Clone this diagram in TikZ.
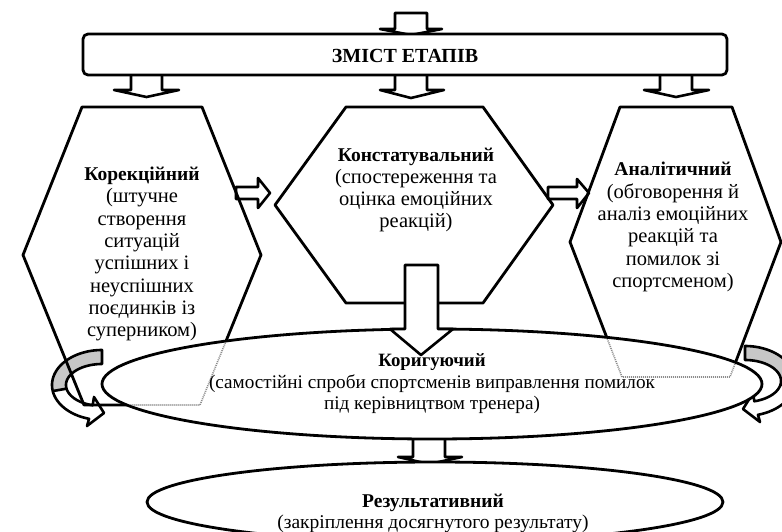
\documentclass[tikz,border=0pt]{standalone}
\usepackage{fontspec}
\setmainfont{Liberation Serif}
\usetikzlibrary{calc}
\newcommand{\hexbold}[1]{{\fontsize{19.5}{22.3}\selectfont\bfseries #1}}
\newcommand{\ellbold}[1]{{\fontsize{18.8}{21.5}\selectfont\bfseries #1}}
\begin{document}
\begin{tikzpicture}[x=1pt,y=-1pt,line join=round,
  outl/.style={draw=black,line width=2.8pt},
  blockarrow/.style={draw=black,line width=2.6pt,fill=white,line join=round},
  hidden/.style={draw=black!45,line width=1.6pt,dash pattern=on 1pt off 1pt},
  hexlbl/.style={align=center,inner sep=0pt,font=\fontsize{20.5}{22.3}\selectfont},
  elllbl/.style={align=center,inner sep=0pt,font=\fontsize{19.2}{21.5}\selectfont},
  curvefill/.style={fill=black!22},
]
\useasboundingbox (0,0) rectangle (782,532);
\clip (0,0) rectangle (782,532);

% ---- curved arrows (left and right)
\fill[curvefill] plot[domain=270:170,samples=30] ({102+50*cos(\x)},{385+35*sin(\x)})
  -- plot[domain=170:270,samples=30] ({102+36*cos(\x)},{385+21*sin(\x)}) -- cycle;
\draw[outl,line width=2.6pt] plot[domain=270:105,samples=50] ({102+50*cos(\x)},{385+35*sin(\x)})
  -- (87,426) -- (104,413) -- (94,397)
  -- plot[domain=105:270,samples=50] ({102+36*cos(\x)},{385+21*sin(\x)}) -- cycle;
\draw[line width=2.6pt] ({102+50*cos(170)},{385+35*sin(170)}) -- ({102+36*cos(170)},{385+21*sin(170)});

\fill[curvefill] plot[domain=-90:10,samples=30] ({745+50*cos(\x)},{381+35*sin(\x)})
  -- plot[domain=10:-90,samples=30] ({745+36*cos(\x)},{381+21*sin(\x)}) -- cycle;
\draw[outl,line width=2.6pt] plot[domain=-90:75,samples=50] ({745+50*cos(\x)},{381+35*sin(\x)})
  -- (760,422) -- (743,409) -- (753,393)
  -- plot[domain=75:-90,samples=50] ({745+36*cos(\x)},{381+21*sin(\x)}) -- cycle;
\draw[line width=2.6pt] ({745+50*cos(10)},{381+35*sin(10)}) -- ({745+36*cos(10)},{381+21*sin(10)});

% ---- arrow into the bar
\draw[blockarrow] (395,13) -- (427,13) -- (427,29) -- (442,29) -- (411,35) -- (380,29) -- (395,29) -- cycle;
% ---- arrows out of the bar
\draw[blockarrow] (131,68) -- (162,68) -- (162,90) -- (179,90) -- (146.5,97) -- (114,90) -- (131,90) -- cycle;
\draw[blockarrow] (395,68) -- (427,68) -- (427,90) -- (444,90) -- (411,98) -- (380,90) -- (395,90) -- cycle;
\draw[blockarrow] (660,68) -- (692,68) -- (692,90) -- (709,90) -- (676,97) -- (644,90) -- (660,90) -- cycle;

% ---- bar
\draw[outl,fill=white,rounded corners=5pt] (83,34) rectangle (727,75);
\node[font=\fontsize{20}{22}\selectfont\bfseries,inner sep=0pt] (zmist) at (405,56) {ЗМІСТ ЕТАПІВ};

% ---- horizontal arrows
\draw[blockarrow] (236,187) -- (258,187) -- (258,178) -- (270,193) -- (258,208) -- (258,199) -- (236,199) -- cycle;
\draw[blockarrow] (548,187) -- (577,187) -- (577,179) -- (589,193) -- (577,208) -- (577,199) -- (548,199) -- cycle;

% ---- hexagons
\draw[outl] (82,107) -- (202,107) -- (261,255) -- (200,405) -- (84,405) -- (23,255) -- cycle;
\draw[outl] (346,107) -- (483,107) -- (553,205) -- (483,303) -- (346,303) -- (275,205) -- cycle;
\draw[outl] (620,107) -- (732,107) -- (781,242) -- (730,377) -- (622,377) -- (570,242) -- cycle;

\node[hexlbl] (korek) at (142,254) {\hexbold{Корекційний}\\(штучне\\створення\\ситуацій\\успішних і\\неуспішних\\поєдинків із\\суперником)};
\node[hexlbl] (konst) at (416,190) {\hexbold{Констатувальний}\\(спостереження та\\оцінка емоційних\\реакцій)};
\node[hexlbl] (anal) at (673,227) {\hexbold{Аналітичний}\\(обговорення й\\аналіз емоційних\\реакцій та\\помилок зі\\спортсменом)};

% ---- arrow between ellipses
\draw[blockarrow] (413,430) -- (445,430) -- (445,457) -- (462,457) -- (429,464) -- (398,457) -- (413,457) -- cycle;

% ---- ellipse 1
\draw[outl,fill=white] (432,384) ellipse [x radius=330pt,y radius=55pt];
\begin{scope}
  \clip (432,384) ellipse [x radius=328pt,y radius=53pt];
  \draw[hidden] (82,107) -- (202,107) -- (261,255) -- (200,405) -- (84,405) -- (23,255) -- cycle;
  \draw[hidden] (620,107) -- (732,107) -- (781,242) -- (730,377) -- (622,377) -- (570,242) -- cycle;
\end{scope}

% ---- big middle arrow
\draw[blockarrow] (405,265) -- (438,265) -- (438,329) -- (453,329) -- (421,355) -- (390,329) -- (405,329) -- cycle;

\node[elllbl] (korig) at (432,384) {\ellbold{Коригуючий}\\(самостійні спроби спортсменів виправлення помилок\\під керівництвом тренера)};

% ---- ellipse 2
\draw[outl,fill=white] (435,502) ellipse [x radius=288pt,y radius=40pt];
\node[elllbl,font=\fontsize{19.5}{21}\selectfont] (rezult) at (433,513) {{\bfseries Результативний}\\(закріплення досягнутого результату)};
\end{tikzpicture}
\end{document}
